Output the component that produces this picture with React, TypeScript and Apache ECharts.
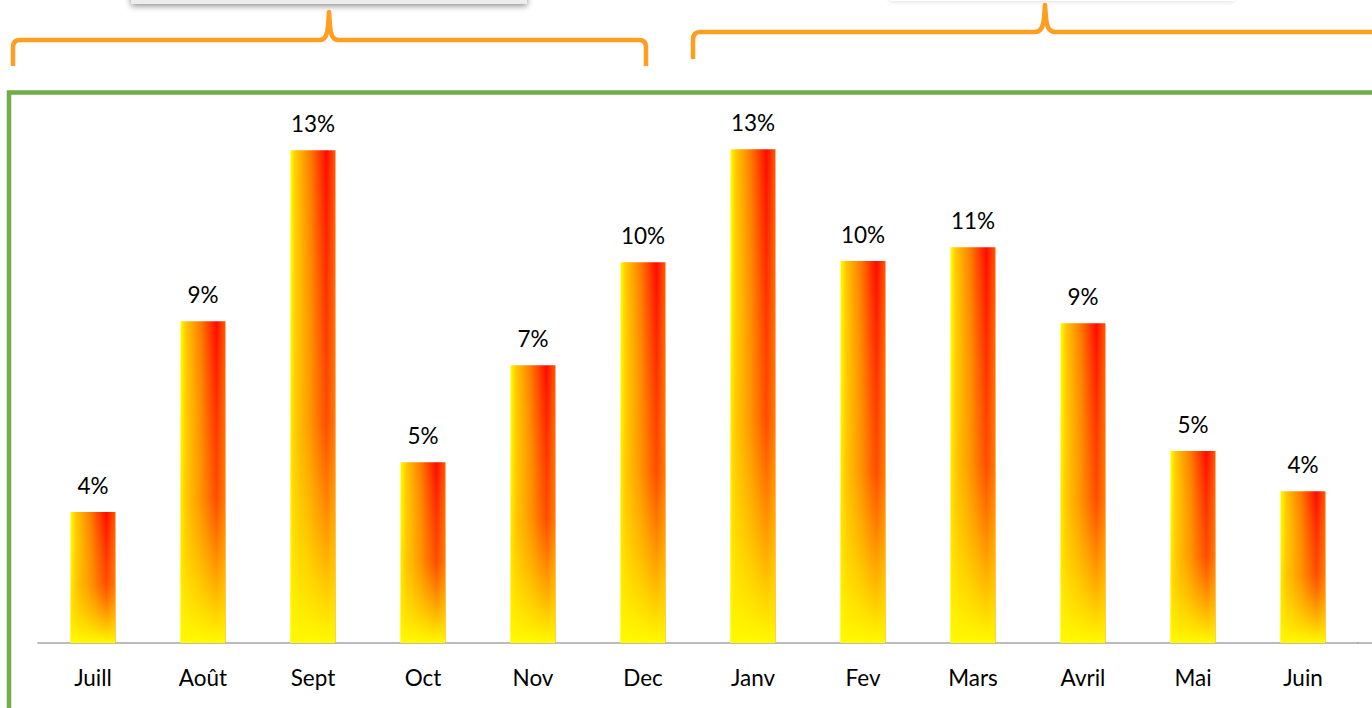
import React, { useEffect, useRef } from "react";
import * as echarts from "echarts";

const months = ["Juill", "Août", "Sept", "Oct", "Nov", "Dec", "Janv", "Fev", "Mars", "Avril", "Mai", "Juin"];
const shares = [3.52, 8.65, 13.25, 4.86, 7.47, 10.24, 13.28, 10.27, 10.64, 8.6, 5.16, 4.08];

const leftBrace =
  "M13,66 L13,47 Q13,40 20,40 L320,40 Q327,40 328,26 L329,12 L330,26 Q331,40 338,40 L639,40 Q646,40 646,47 L646,66";
const rightBrace =
  "M693,59 L693,40 Q693,32 700,32 L1035,32 Q1043,32 1044,18 L1045,5 L1046,18 Q1047,32 1055,32 L1400,32";

echarts.graphic.registerShape("leftBrace", echarts.graphic.extendPath(leftBrace, {}));
echarts.graphic.registerShape("rightBrace", echarts.graphic.extendPath(rightBrace, {}));

const FONT = "Lato";

export default function App() {
  const ref = useRef<HTMLDivElement>(null);
  useEffect(() => {
    if (!ref.current) return;
    const chart = echarts.init(ref.current, null, { renderer: "svg" });
    const horiz = new echarts.graphic.LinearGradient(0, 0, 1, 0, [
      { offset: 0, color: "#FFFF00" },
      { offset: 0.12, color: "#FFC800" },
      { offset: 0.45, color: "#FF7A00" },
      { offset: 0.8, color: "#FF0A00" },
      { offset: 1, color: "#FF5A00" },
    ]);
    const vert = new echarts.graphic.LinearGradient(0, 0, 0, 1, [
      { offset: 0, color: "rgba(255,255,0,0)" },
      { offset: 0.55, color: "rgba(255,200,0,0.35)" },
      { offset: 1, color: "rgba(255,250,0,1)" },
    ]);
    chart.setOption({
      animation: false,
      backgroundColor: "#ffffff",
      grid: { left: 38, width: 1320, top: 48, bottom: 65, containLabel: false },
      xAxis: {
        type: "category",
        data: months,
        axisLine: { show: true, lineStyle: { color: "#A6A6A6", width: 1.5 } },
        axisTick: { show: false },
        axisLabel: { color: "#000000", fontFamily: FONT, fontSize: 22.5, margin: 23 },
      },
      yAxis: { type: "value", min: 0, max: 16, show: false, splitLine: { show: false } },
      series: [
        {
          type: "bar",
          data: shares,
          barWidth: 45,
          itemStyle: { color: horiz },
          label: {
            show: true,
            position: "top",
            distance: 15,
            color: "#000000",
            fontFamily: FONT,
            fontSize: 22.5,
            formatter: (p: any) => Math.round(p.value) + "%",
          },
        },
        {
          type: "bar",
          data: shares,
          barWidth: 45,
          barGap: "-100%",
          silent: true,
          itemStyle: { color: vert },
          label: { show: false },
        },
      ],
      graphic: [
        {
          type: "rect",
          shape: { x: 131, y: -40, width: 396, height: 44 },
          style: { fill: "#ededed", shadowBlur: 6, shadowColor: "rgba(0,0,0,0.45)", shadowOffsetY: 2 },
          silent: true,
        },
        {
          type: "rect",
          shape: { x: 890, y: -40, width: 344, height: 41 },
          style: { fill: "#ffffff", shadowBlur: 4, shadowColor: "rgba(0,0,0,0.12)", shadowOffsetY: 1 },
          silent: true,
        },
        {
          type: "leftBrace",
          x: 0,
          y: 0,
          style: { fill: "none", stroke: "#FF9E1F", lineWidth: 4.5, lineJoin: "round", lineCap: "butt" },
          silent: true,
        },
        {
          type: "rightBrace",
          x: 0,
          y: 0,
          style: { fill: "none", stroke: "#FF9E1F", lineWidth: 4.5, lineJoin: "round", lineCap: "butt" },
          silent: true,
        },
        {
          type: "rect",
          shape: { x: 9, y: 92.5, width: 1500, height: 800 },
          style: { fill: "none", stroke: "#70AD47", lineWidth: 4.5 },
          silent: true,
        },
        {
          type: "line",
          shape: { x1: 1357, y1: 643, x2: 1372, y2: 643 },
          style: { stroke: "#A6A6A6", lineWidth: 1.5 },
          silent: true,
        },
      ],
    });
    return () => chart.dispose();
  }, []);
  return (
    <div
      ref={ref}
      style={{ position: "absolute", left: 0, top: 0, width: 1372, height: 708, background: "#fff" }}
    />
  );
}
